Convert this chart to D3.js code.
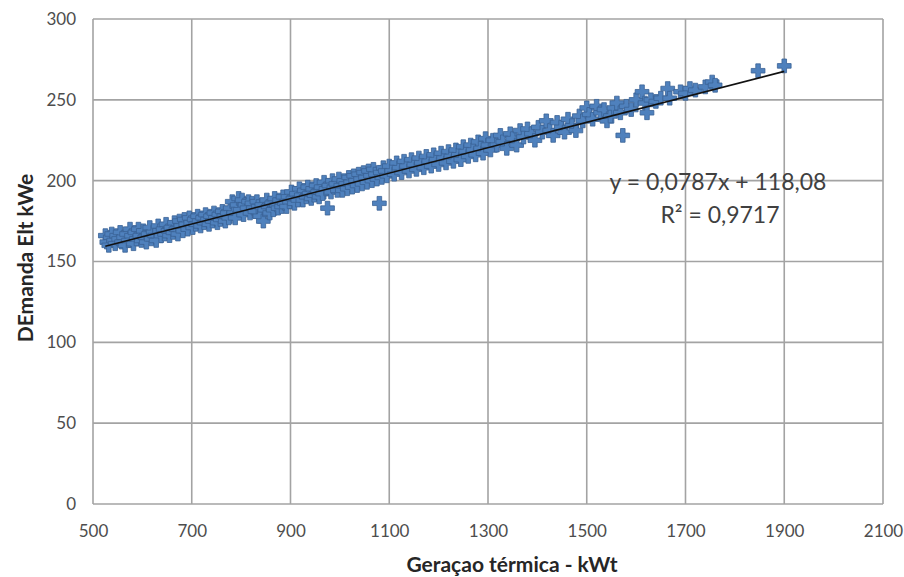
<!DOCTYPE html>
<html>
<head>
<meta charset="utf-8">
<script src="https://cdn.jsdelivr.net/npm/d3@7"></script>
<style>
  body { margin: 0; background: #fff; }
  svg text { font-family: Lato, "Open Sans", sans-serif; }
</style>
</head>
<body>
<div id="chart"></div>
<script>
// geracao termica (kWt) and demanda eletrica (kWe)
var geracao = [525,528,532,535,538,542,545,548,552,555,558,562,565,568,572,575,578,582,585,588,
  592,595,598,602,605,608,612,615,618,622,625,628,632,635,638,642,645,648,652,655,
  658,662,665,668,672,675,678,682,685,688,692,695,698,702,705,708,712,715,718,722,
  725,728,732,735,738,742,745,748,752,755,758,762,765,768,772,775,778,782,785,788,
  792,795,798,802,805,808,812,815,818,822,825,828,832,835,838,842,845,848,852,855,
  858,862,865,868,872,875,878,882,885,888,892,895,898,902,905,908,912,915,918,922,
  925,928,932,935,938,942,945,948,952,955,958,962,965,968,972,975,978,982,985,988,
  992,995,998,1002,1005,1008,1012,1015,1018,1022,1025,1028,1032,1035,1038,1042,1045,1048,1052,1055,
  1058,1062,1065,1068,1072,1075,1080,1082,1085,1088,1092,1095,1100,1105,1110,1115,1120,1125,1130,1135,
  1140,1145,1150,1155,1160,1165,1170,1175,1180,1185,1190,1195,1200,1205,1210,1215,1220,1225,1230,1235,
  1240,1245,1250,1255,1260,1265,1270,1275,1280,1285,1290,1295,1300,1305,1310,1318,1325,1330,1338,1345,
  1350,1358,1365,1372,1380,1388,1395,1402,1410,1418,1425,1432,1440,1448,1455,1462,1470,1478,1485,1492,
  1500,1505,1512,1520,1528,1535,1541,1548,1555,1561,1568,1573,1580,1590,1600,1612,1618,1622,1630,1640,
  1650,1664,1668,1690,1700,1709,1720,1740,1754,1760,1847,1900];
var demanda = [166,162,160,165,167,163,161,166,164,168,162,165,160,167,163,170,166,161,168,164,
  170,166,163,169,165,162,167,171,164,168,166,163,172,169,166,170,167,173,169,166,
  171,168,174,170,167,175,172,169,176,173,170,177,174,171,176,173,178,175,172,177,
  174,179,176,173,178,175,180,177,174,179,176,181,178,175,180,177,183,187,180,177,
  185,189,182,188,179,185,183,187,180,186,183,181,187,184,178,185,175,182,188,184,
  180,186,182,189,185,183,188,184,190,186,184,190,187,193,189,186,192,188,195,191,
  188,194,190,196,192,189,195,191,197,193,190,196,192,199,195,183,197,193,200,196,
  198,194,201,197,194,200,198,195,202,199,196,203,200,197,204,201,198,205,202,199,
  206,203,200,207,204,201,186,205,202,208,206,203,209,206,204,211,208,205,212,209,
  206,213,210,207,214,211,208,215,212,209,216,213,210,217,214,211,218,215,212,219,
  216,213,221,218,215,222,219,216,224,220,217,226,222,219,225,222,228,224,220,229,
  226,222,231,227,232,229,225,233,230,237,231,228,236,233,230,238,234,231,240,237,
  245,241,238,246,242,244,237,240,245,248,242,228,246,244,250,255,248,242,250,249,
  251,257,251,255,254,257,256,258,261,259,268,271];

// linear trendline shown on the chart
var trendSlope = 0.0787;
var trendIntercept = 118.08;
var trendLabel = ["y = 0,0787x + 118,08", "R² = 0,9717"];

var xTicks = [500,700,900,1100,1300,1500,1700,1900,2100];
var yTicks = [0,50,100,150,200,250,300];

var width = 904, height = 577;
var margin = {top: 19, right: 21, bottom: 73, left: 93};

var svg = d3.select('#chart').append('svg')
  .attr('width', width)
  .attr('height', height);

var x = d3.scaleLinear().domain([500, 2100]).range([margin.left, width - margin.right]);
var y = d3.scaleLinear().domain([0, 300]).range([height - margin.bottom, margin.top]);

/* gridlines */
svg.append('g').selectAll('line.vgrid')
  .data(xTicks).enter()
  .append('line').attr('class','vgrid')
  .attr('x1', function(d){ return x(d); })
  .attr('x2', function(d){ return x(d); })
  .attr('y1', y(0)).attr('y2', y(300))
  .style('stroke','#a3a3a3').style('stroke-width',1.6);

svg.append('g').selectAll('line.hgrid')
  .data(yTicks).enter()
  .append('line').attr('class','hgrid')
  .attr('x1', x(500)).attr('x2', x(2100))
  .attr('y1', function(d){ return y(d); })
  .attr('y2', function(d){ return y(d); })
  .style('stroke','#a3a3a3').style('stroke-width',1.6);

/* axes: labels only, lines come from the grid */
var xAxis = svg.append('g')
  .attr('transform','translate(0,' + y(0) + ')')
  .call(d3.axisBottom(x).tickValues(xTicks).tickSize(0).tickPadding(21).tickFormat(d3.format('d')));
var yAxis = svg.append('g')
  .attr('transform','translate(' + x(500) + ',0)')
  .call(d3.axisLeft(y).tickValues(yTicks).tickSize(0).tickPadding(17).tickFormat(d3.format('d')));
[xAxis, yAxis].forEach(function(a){
  a.select('.domain').remove();
  a.selectAll('text').style('font-size','17px').style('fill','#4d4d4d')
    .style('font-family','Lato, sans-serif');
});

/* points */
var points = geracao.map(function(g, i){ return {g: g, d: demanda[i]}; });
svg.append('g').selectAll('path.pt')
  .data(points).enter()
  .append('path').attr('class','pt')
  .attr('d', d3.symbol().type(d3.symbolCross).size(105))
  .attr('transform', function(p){ return 'translate(' + x(p.g) + ',' + y(p.d) + ')'; })
  .style('fill','#4f81bd')
  .style('stroke','#3a6296')
  .style('stroke-width',0.8)
  .style('stroke-linejoin','round');

/* trendline */
var trendX = [d3.min(geracao), d3.max(geracao)];
svg.append('line')
  .attr('x1', x(trendX[0])).attr('y1', y(trendIntercept + trendSlope * trendX[0]))
  .attr('x2', x(trendX[1])).attr('y2', y(trendIntercept + trendSlope * trendX[1]))
  .style('stroke','#111').style('stroke-width',1.6);

/* equation */
svg.append('text')
  .attr('x', 718).attr('y', 190)
  .attr('text-anchor','middle')
  .style('font-size','23px').style('fill','#404040')
  .text(trendLabel[0]);
svg.append('text')
  .attr('x', 720).attr('y', 223)
  .attr('text-anchor','middle')
  .style('font-size','23px').style('fill','#404040')
  .text(trendLabel[1]);

/* axis titles */
svg.append('text')
  .attr('x', 512).attr('y', 572)
  .attr('text-anchor','middle')
  .style('font-size','21px').style('font-weight','bold').style('fill','#262626')
  .text('Geraçao térmica - kWt');
svg.append('text')
  .attr('transform','translate(33,258) rotate(-90)')
  .attr('text-anchor','middle')
  .style('font-size','21px').style('font-weight','bold').style('fill','#262626')
  .text('DEmanda Elt kWe');
</script>
</body>
</html>
